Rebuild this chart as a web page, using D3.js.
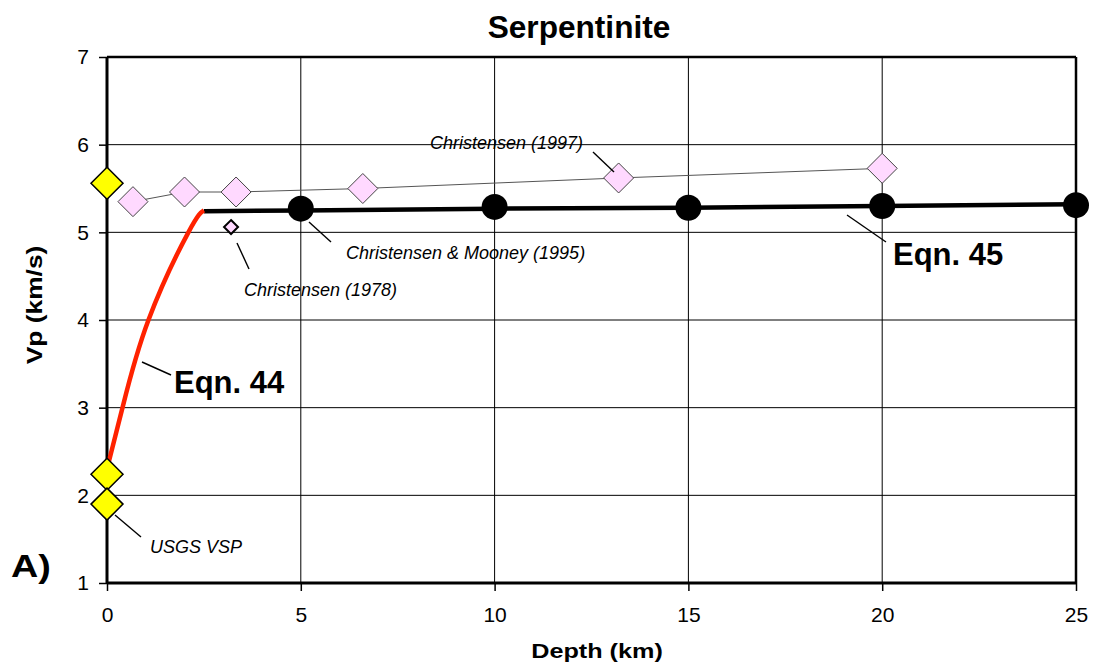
<!DOCTYPE html>
<html lang="en">
<head>
  <meta charset="UTF-8">
  <title>Serpentinite</title>
  <script src="https://d3js.org/d3.v7.min.js"></script>
  <style>
    body { margin: 0; background: #fff; }
    svg { font-family: "Liberation Sans", Arial, sans-serif; }
    .note { font-size: 18px; font-style: italic; }
    .eqn { font-size: 31px; font-weight: bold; }
  </style>
</head>
<body>
  <svg width="1094" height="668"></svg>

  <script>
    // Christensen (1997) lab points
    const c1997Depth = [0.67, 2.0, 3.33, 6.6, 13.2, 20];
    const c1997Vp = [5.35, 5.46, 5.46, 5.50, 5.62, 5.73];

    // Christensen & Mooney (1995)
    const cmDepth = [5, 10, 15, 20, 25];
    const cmVp = [5.27, 5.29, 5.28, 5.30, 5.31];

    // Christensen (1978)
    const c1978Depth = [3.2];
    const c1978Vp = [5.06];

    // USGS VSP and surface points
    const vspDepth = [0, 0, 0];
    const vspVp = [5.56, 2.24, 1.90];

    // Eqn. 44 curve
    const eq44Depth = [0, 0.4, 1.07, 2.1, 2.5];
    const eq44Vp = [2.3, 3.0, 4.0, 5.0, 5.25];

    // Eqn. 45 line
    const eq45Depth = [2.5, 5, 10, 15, 20, 25];
    const eq45Vp = [5.24, 5.25, 5.27, 5.28, 5.30, 5.32];

    const xTicks = [0, 5, 10, 15, 20, 25];
    const yTicks = [1, 2, 3, 4, 5, 6, 7];

    const svg = d3.select("svg");
    const margin = { top: 57, right: 18, bottom: 85, left: 107 };
    const width = 1094 - margin.left - margin.right;
    const height = 668 - margin.top - margin.bottom;

    const x = d3.scaleLinear().domain([0, 25]).range([0, width]);
    const y = d3.scaleLinear().domain([1, 7]).range([height, 0]);

    const g = svg.append("g").attr("transform", `translate(${margin.left},${margin.top})`);

    // grid
    g.append("g").selectAll("line").data(xTicks.slice(1, -1)).join("line")
      .attr("x1", d => x(d)).attr("x2", d => x(d))
      .attr("y1", 0).attr("y2", height)
      .attr("stroke", "#000").attr("stroke-width", 1);
    g.append("g").selectAll("line").data(yTicks.slice(1, -1)).join("line")
      .attr("x1", 0).attr("x2", width)
      .attr("y1", d => y(d)).attr("y2", d => y(d))
      .attr("stroke", "#000").attr("stroke-width", 1);

    // axes
    const xAxis = g.append("g").attr("transform", `translate(0,${height})`)
      .call(d3.axisBottom(x).tickValues(xTicks).tickFormat(d3.format("d")).tickSize(8).tickPadding(16));
    const yAxis = g.append("g")
      .call(d3.axisLeft(y).tickValues(yTicks).tickFormat(d3.format("d")).tickSize(8).tickPadding(10));
    [xAxis, yAxis].forEach(a => {
      a.attr("font-family", null);
      a.select(".domain").remove();
      a.selectAll(".tick line").attr("stroke", "#000").attr("stroke-width", 1.5);
      a.selectAll(".tick text").attr("fill", "#000").style("font-size", "21px");
    });

    // frame
    g.append("line").attr("x1", 0).attr("x2", width).attr("y1", 0).attr("y2", 0)
      .attr("stroke", "#000").attr("stroke-width", 2.5);
    g.append("line").attr("x1", width).attr("x2", width).attr("y1", 0).attr("y2", height)
      .attr("stroke", "#000").attr("stroke-width", 2.5);
    g.append("line").attr("x1", 0).attr("x2", width).attr("y1", height).attr("y2", height)
      .attr("stroke", "#000").attr("stroke-width", 3);
    g.append("line").attr("x1", 0).attr("x2", 0).attr("y1", 0).attr("y2", height)
      .attr("stroke", "#000").attr("stroke-width", 3);

    const zip = (a, b) => a.map((d, i) => [d, b[i]]);
    const line = d3.line().x(d => x(d[0])).y(d => y(d[1]));

    // Christensen 1997 connecting line
    g.append("path").datum(zip(c1997Depth, c1997Vp))
      .attr("d", line).attr("fill", "none")
      .attr("stroke", "#555").attr("stroke-width", 1);

    // Eqn 45
    g.append("path").datum(zip(eq45Depth, eq45Vp))
      .attr("d", line).attr("fill", "none")
      .attr("stroke", "#000").attr("stroke-width", 4.5);

    // Eqn 44
    g.append("path").datum(zip(eq44Depth, eq44Vp))
      .attr("d", d3.line().x(d => x(d[0])).y(d => y(d[1])).curve(d3.curveNatural))
      .attr("fill", "none")
      .attr("stroke", "#ff2200").attr("stroke-width", 4.5);

    const diamond = r => `M0,${-r}L${r},0L0,${r}L${-r},0Z`;

    // Christensen 1997 diamonds
    g.append("g").selectAll("path").data(zip(c1997Depth, c1997Vp)).join("path")
      .attr("transform", d => `translate(${x(d[0])},${y(d[1])})`)
      .attr("d", diamond(15))
      .attr("fill", "#ffd9ff").attr("stroke", "#444").attr("stroke-width", 1);

    // Christensen 1978
    g.append("g").selectAll("path").data(zip(c1978Depth, c1978Vp)).join("path")
      .attr("transform", d => `translate(${x(d[0])},${y(d[1])})`)
      .attr("d", diamond(7))
      .attr("fill", "#ffd9ff").attr("stroke", "#000").attr("stroke-width", 2);

    // Christensen & Mooney circles
    g.append("g").selectAll("circle").data(zip(cmDepth, cmVp)).join("circle")
      .attr("cx", d => x(d[0])).attr("cy", d => y(d[1])).attr("r", 13)
      .attr("fill", "#000");

    // yellow diamonds
    g.append("g").selectAll("path").data(zip(vspDepth, vspVp)).join("path")
      .attr("transform", d => `translate(${x(d[0])},${y(d[1])})`)
      .attr("d", diamond(16))
      .attr("fill", "#ffff00").attr("stroke", "#000").attr("stroke-width", 1.5);

    // annotations: [text, textX, textY, class, leader x1,y1,x2,y2] in page px
    const notes = [
      ["Christensen (1997)", 430, 149, "note", 593, 152, 614, 172],
      ["Christensen & Mooney (1995)", 346, 259, "note", 309, 222, 331, 242],
      ["Christensen (1978)", 244, 296, "note", 237, 243, 249, 269],
      ["USGS VSP", 150, 553, "note", 115, 515, 141, 537],
      ["Eqn. 44", 174, 393, "eqn", 142, 362, 171, 375],
      ["Eqn. 45", 893, 265, "eqn", 847, 215, 886, 242]
    ];
    notes.forEach(n => {
      svg.append("line")
        .attr("x1", n[4]).attr("y1", n[5]).attr("x2", n[6]).attr("y2", n[7])
        .attr("stroke", "#000").attr("stroke-width", 1.4);
      svg.append("text").attr("class", n[3])
        .attr("x", n[1]).attr("y", n[2]).text(n[0]);
    });

    // bold labels, slightly widened like the original figure
    function label(txt, px, py, size, sx, anchor, rot) {
      svg.append("text")
        .attr("transform", `translate(${px},${py}) rotate(${rot || 0}) scale(${sx},1)`)
        .attr("text-anchor", anchor)
        .attr("font-size", size).attr("font-weight", "bold")
        .text(txt);
    }
    label("Serpentinite", 579, 38, 31, 1.02, "middle");
    label("Depth (km)", 597, 658, 21, 1.2, "middle");
    label("Vp (km/s)", 42, 305, 22, 1.2, "middle", -90);
    label("A)", 11, 577, 32, 1.18, "start");
  </script>
</body>
</html>
